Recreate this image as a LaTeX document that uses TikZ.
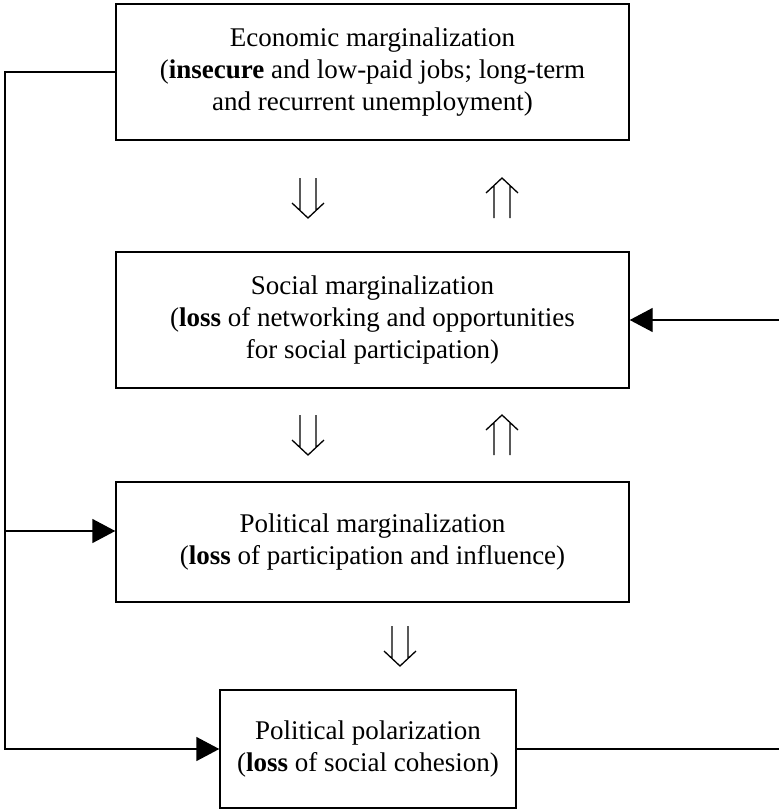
\documentclass[tikz,border=0pt]{standalone}
\usepackage{fontspec}
\setmainfont{Liberation Serif}
\usetikzlibrary{arrows.meta}

\begin{document}
\begin{tikzpicture}[x=0.5pt,y=-0.5pt,
    stage/.style={draw,line width=0.7pt,align=center,inner sep=0pt,
      minimum width=256.5pt,minimum height=68pt,font=\fontsize{13.5}{16}\selectfont},
    link/.style={line width=0.7pt},
    feed/.style={link,-{Triangle[length=11.5pt,width=12pt]}},
    dblarrow/.pic={
      \draw[line width=0.65pt] (-8,-20) -- (-8,12.5) (8,-20) -- (8,12.5) (-16,5) -- (0,20) -- (16,5);
    }]
    \useasboundingbox (0,0) rectangle (779,809);
    %stages
    \node[stage] (econ) at (372.5,72) {Economic marginalization\\(\textbf{insecure} and low-paid jobs; long-term\\and recurrent unemployment)};
    \node[stage] (social) at (372.5,320) {Social marginalization\\(\textbf{loss} of networking and opportunities\\for social participation)};
    \node[stage,minimum height=60pt] (polmarg) at (372.5,542) {Political marginalization\\(\textbf{loss} of participation and influence)};
    \node[stage,minimum height=59pt,minimum width=148pt] (polpol) at (368,749) {Political polarization\\(\textbf{loss} of social cohesion)};

    %between stages
    \pic at (308,198) {dblarrow};
    \pic[rotate=180] at (502,198) {dblarrow};
    \pic at (308,435) {dblarrow};
    \pic[rotate=180] at (502,435) {dblarrow};
    \pic at (400,646) {dblarrow};

    %left rail
    \coordinate (rail) at (5,0);
    \coordinate (branch) at ([yshift=5.5pt]polmarg.west);
    \draw[feed] (econ.west) -- (econ.west -| rail) |- (polpol.west);
    \draw[feed] (branch -| rail) -- (branch);

    %right rail
    \coordinate (edge) at (779,0);
    \draw[link] (polpol.east) -- (polpol.east -| edge);
    \draw[feed] (social.east -| edge) -- (social.east);
\end{tikzpicture}
\end{document}
